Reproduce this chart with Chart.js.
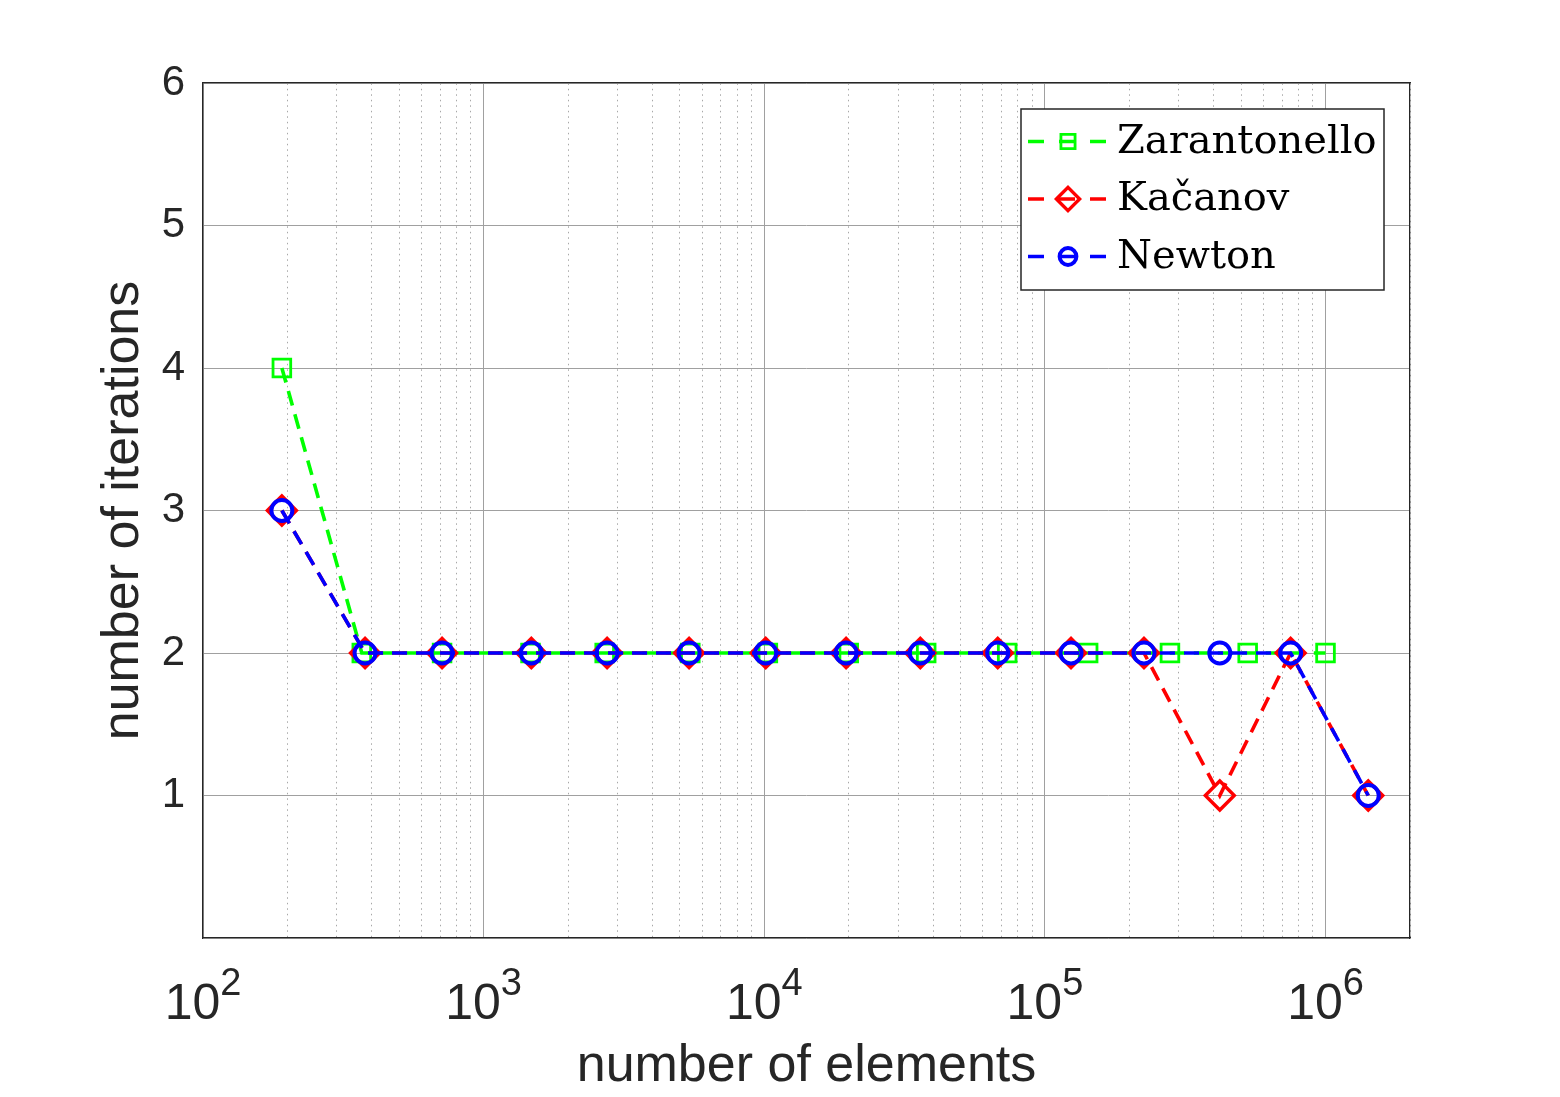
<!DOCTYPE html>
<html>
<head>
<meta charset="utf-8">
<script src="https://cdn.jsdelivr.net/npm/chart.js@4.4.0/dist/chart.umd.min.js"></script>
<style>
html,body{margin:0;padding:0;background:#ffffff;}
canvas{display:block;}
</style>
</head>
<body>
<canvas id="c" width="1560" height="1097"></canvas>
<script>
// ---- data ----
const seriesNames = ['Zarantonello', 'Ka\u010Danov', 'Newton'];

const zarElements = [191, 368, 711, 1469, 2700, 5450, 10300, 20000, 37760, 73400, 142600, 279000, 528000, 1000000];
const zarIterations = [4, 2, 2, 2, 2, 2, 2, 2, 2, 2, 2, 2, 2, 2];

const kacElements = [191, 378, 711, 1479, 2754, 5397, 10120, 19570, 35980, 67920, 123900, 225500, 420000, 751000, 1420000];
const kacIterations = [3, 2, 2, 2, 2, 2, 2, 2, 2, 2, 2, 2, 1, 2, 1];

const newtonElements = [191, 378, 711, 1479, 2754, 5397, 10120, 19570, 35980, 67920, 123900, 225500, 420000, 751000, 1420000];
const newtonIterations = [3, 2, 2, 2, 2, 2, 2, 2, 2, 2, 2, 2, 2, 2, 1];

const xTickValues = [1e2, 1e3, 1e4, 1e5, 1e6];
const xTickBase = '10';
const xTickExponents = ['2', '3', '4', '5', '6'];
const yTickValues = [0, 1, 2, 3, 4, 5, 6];
const yTickLabels = ['', '1', '2', '3', '4', '5', '6'];
const xRange = [100, 2e6];
const yRange = [0, 6];
const xTitle = 'number of elements';
const yTitle = 'number of iterations';

// ---- helpers ----
function toPoints(xs, ys) { return xs.map((x, i) => ({ x: x, y: ys[i] })); }

function isMajor(v) {
  return xTickValues.some(t => Math.abs(t - v) / t < 1e-9);
}
function logTicks() {
  const t = [];
  for (let e = 2; e <= 6; e++) {
    for (let m = 1; m <= 9; m++) {
      const v = m * Math.pow(10, e);
      if (v <= xRange[1] * (1 + 1e-9)) t.push({ value: v, major: isMajor(v) });
    }
  }
  return t;
}

const AXIS_COLOR = '#262626';
const MAJOR_GRID = '#a0a0a0';
const MINOR_GRID = '#a8a8a8';
const SANS = '"Liberation Sans", Arial, sans-serif';

const lineDash = [15, 9];

const datasets = [
  {
    label: seriesNames[0],
    data: toPoints(zarElements, zarIterations),
    borderColor: '#00ff00',
    backgroundColor: 'rgba(0,0,0,0)',
    borderWidth: 3.6,
    borderDash: lineDash,
    pointStyle: 'rect',
    pointRadius: 12.5,
    pointBorderWidth: 2.8,
    pointBorderColor: '#00ff00',
    pointBackgroundColor: 'rgba(0,0,0,0)',
    tension: 0,
    order: 3
  },
  {
    label: seriesNames[1],
    data: toPoints(kacElements, kacIterations),
    borderColor: '#ff0000',
    backgroundColor: 'rgba(0,0,0,0)',
    borderWidth: 3.6,
    borderDash: lineDash,
    pointStyle: 'rectRot',
    pointRadius: 14.5,
    pointBorderWidth: 3.4,
    pointBorderColor: '#ff0000',
    pointBackgroundColor: 'rgba(0,0,0,0)',
    tension: 0,
    order: 2
  },
  {
    label: seriesNames[2],
    data: toPoints(newtonElements, newtonIterations),
    borderColor: '#0000ff',
    backgroundColor: 'rgba(0,0,0,0)',
    borderWidth: 3.6,
    borderDash: lineDash,
    pointStyle: 'circle',
    pointRadius: 10.5,
    pointBorderWidth: 4,
    pointBorderColor: '#0000ff',
    pointBackgroundColor: 'rgba(0,0,0,0)',
    tension: 0,
    order: 1
  }
];

// legend drawn as a MATLAB-style box inside the plot area
const boxLegend = {
  id: 'boxLegend',
  afterDatasetsDraw(chart) {
    const { ctx, chartArea } = chart;
    const bw = 363, bh = 181;
    const bx = chartArea.right - 389;
    const by = chartArea.top + 26;
    ctx.save();
    ctx.fillStyle = '#ffffff';
    ctx.fillRect(bx, by, bw, bh);
    ctx.strokeStyle = AXIS_COLOR;
    ctx.lineWidth = 1.5;
    ctx.strokeRect(bx, by, bw, bh);
    chart.data.datasets.forEach((ds, i) => {
      const y = by + 32.5 + i * 57.5;
      ctx.strokeStyle = ds.borderColor;
      ctx.lineWidth = ds.borderWidth;
      ctx.setLineDash([16, 15]);
      ctx.lineDashOffset = 0;
      ctx.beginPath();
      ctx.moveTo(bx + 7, y);
      ctx.lineTo(bx + 87, y);
      ctx.stroke();
      ctx.setLineDash([]);
      ctx.strokeStyle = ds.pointBorderColor;
      ctx.fillStyle = 'rgba(0,0,0,0)';
      ctx.lineWidth = ds.pointBorderWidth;
      Chart.helpers.drawPoint(ctx, {
        pointStyle: ds.pointStyle,
        radius: ds.pointRadius * 0.8,
        borderWidth: ds.pointBorderWidth,
        rotation: 0
      }, bx + 47, y);
      ctx.fillStyle = '#000000';
      ctx.font = '40px "DejaVu Serif"';
      ctx.textBaseline = 'middle';
      ctx.textAlign = 'left';
      ctx.fillText(ds.label, bx + 96, y + 1);
    });
    ctx.restore();
  }
};

// x tick labels 10^k drawn with a real superscript at the scale's tick positions
const powerLabels = {
  id: 'powerLabels',
  afterDraw(chart) {
    const { ctx } = chart;
    const sx = chart.scales.x;
    const baseline = sx.top + 81;
    ctx.save();
    ctx.fillStyle = AXIS_COLOR;
    ctx.textBaseline = 'alphabetic';
    ctx.textAlign = 'left';
    xTickValues.forEach((v, i) => {
      const px = sx.getPixelForValue(v);
      ctx.font = '50px ' + SANS;
      const wb = ctx.measureText(xTickBase).width;
      ctx.font = '38px ' + SANS;
      const we = ctx.measureText(xTickExponents[i]).width;
      const start = px - (wb + we) / 2;
      ctx.font = '50px ' + SANS;
      ctx.fillText(xTickBase, start, baseline);
      ctx.font = '38px ' + SANS;
      ctx.fillText(xTickExponents[i], start + wb, baseline - 24);
    });
    ctx.restore();
  }
};

const bgPlugin = {
  id: 'bg',
  beforeDraw(chart) {
    const ctx = chart.ctx;
    ctx.save();
    ctx.fillStyle = '#ffffff';
    ctx.fillRect(0, 0, chart.width, chart.height);
    ctx.restore();
  }
};

new Chart(document.getElementById('c'), {
  type: 'line',
  data: { datasets: datasets },
  plugins: [bgPlugin, boxLegend, powerLabels],
  options: {
    responsive: false,
    animation: false,
    devicePixelRatio: 1,
    layout: { padding: { left: 0, top: 83, right: 150, bottom: 0 } },
    plugins: { legend: { display: false }, tooltip: { enabled: false } },
    scales: {
      x: {
        type: 'logarithmic',
        position: 'bottom',
        min: xRange[0],
        max: xRange[1],
        afterBuildTicks(scale) { scale.ticks = logTicks(); },
        afterFit(scale) { scale.height = 159; },
        grid: {
          color: (c) => (c.tick && c.tick.major) ? MAJOR_GRID : 'rgba(0,0,0,0)',
          lineWidth: 1,
          drawTicks: false
        },
        border: { display: true, color: AXIS_COLOR, width: 1.3 },
        ticks: { display: false, autoSkip: false },
        title: {
          display: true,
          text: xTitle,
          color: AXIS_COLOR,
          font: { family: SANS, size: 52, lineHeight: 1.15 },
          padding: { top: 0, bottom: 0 }
        }
      },
      x2: {
        type: 'logarithmic',
        position: 'top',
        min: xRange[0],
        max: xRange[1],
        afterBuildTicks(scale) { scale.ticks = logTicks(); },
        afterFit(scale) { scale.height = 0; },
        grid: {
          color: (c) => (c.tick && !c.tick.major) ? MINOR_GRID : 'rgba(0,0,0,0)',
          lineWidth: 1,
          drawTicks: false
        },
        border: { display: true, color: AXIS_COLOR, width: 1.3, dash: [1.5, 4] },
        ticks: { display: false }
      },
      y: {
        type: 'linear',
        position: 'left',
        min: yRange[0],
        max: yRange[1],
        afterBuildTicks(scale) { scale.ticks = yTickValues.map(v => ({ value: v })); },
        afterFit(scale) { scale.width = 203; },
        grid: { color: MAJOR_GRID, lineWidth: 1, drawTicks: false },
        border: { display: true, color: AXIS_COLOR, width: 1.3 },
        ticks: {
          padding: 18,
          color: AXIS_COLOR,
          font: { family: SANS, size: 42 },
          callback: function (value) {
            const idx = yTickValues.indexOf(value);
            return idx >= 0 ? yTickLabels[idx] : '';
          }
        },
        title: {
          display: true,
          text: yTitle,
          color: AXIS_COLOR,
          font: { family: SANS, size: 52, lineHeight: 1.15 },
          padding: { top: 94, bottom: 0 }
        }
      },
      y2: {
        type: 'linear',
        position: 'right',
        min: yRange[0],
        max: yRange[1],
        afterFit(scale) { scale.width = 0; },
        grid: { drawOnChartArea: false, drawTicks: false },
        border: { display: true, color: AXIS_COLOR, width: 1.3 },
        ticks: { display: false }
      }
    }
  }
});
</script>
</body>
</html>
